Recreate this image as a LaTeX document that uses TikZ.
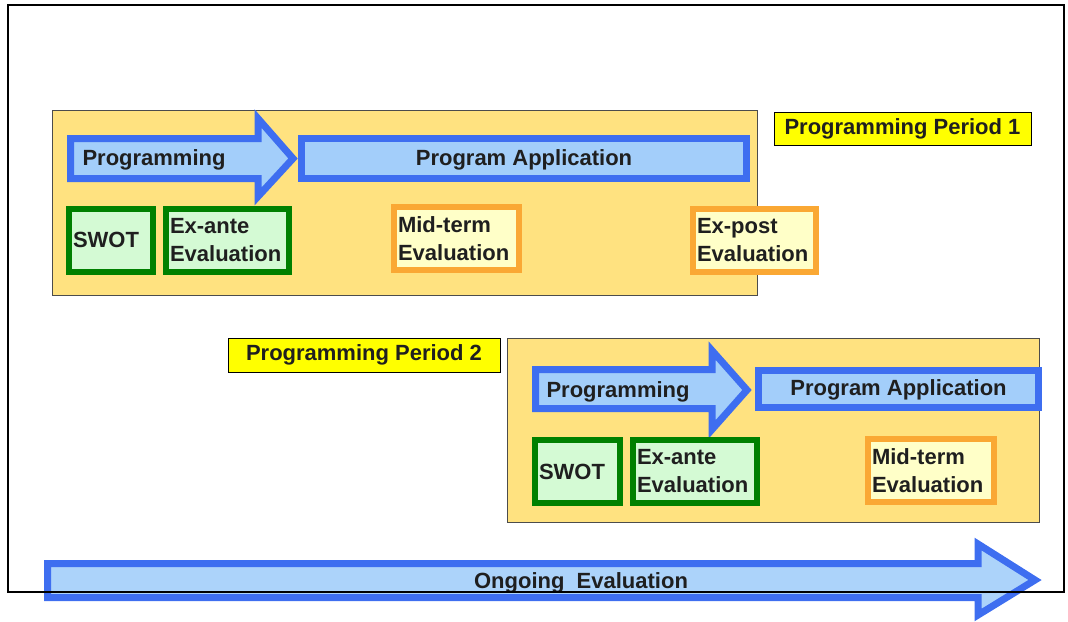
\documentclass[tikz,border=0pt]{standalone}
\usepackage{fontspec}
\setmainfont{Liberation Sans}
\usetikzlibrary{positioning}
\definecolor{arrblue}{RGB}{62,110,240}
\definecolor{arrfill}{RGB}{163,206,250}
\definecolor{evgreen}{RGB}{0,128,0}
\definecolor{evgreenfill}{RGB}{212,250,212}
\definecolor{evorange}{RGB}{250,168,52}
\definecolor{evorangefill}{RGB}{255,255,200}
\definecolor{periodfill}{RGB}{255,226,128}
\definecolor{tagyellow}{RGB}{255,255,0}
\tikzset{
  txt/.style={font=\bfseries\fontsize{22}{28}\selectfont, text=black!88},
  fatarrow/.style={draw=arrblue, line width=7pt, fill=arrfill, line join=miter},
  appbox/.style={fatarrow, txt, inner sep=0pt},
  period/.style={draw=black!70, fill=periodfill, line width=1.2pt},
  tag/.style={draw=black, fill=tagyellow, line width=1pt, txt, inner sep=0pt},
  evbox/.style={line width=6pt, txt, align=left, inner xsep=4pt, inner ysep=0pt, minimum height=63pt},
  exante/.style={evbox, draw=evgreen, fill=evgreenfill},
  review/.style={evbox, draw=evorange, fill=evorangefill}}

\begin{document}
\begin{tikzpicture}[x=1pt, y=-1pt]
  \useasboundingbox (0,0) rectangle (1068,621);
  % Programming Period 1
  \node[period, minimum width=705pt, minimum height=185pt, anchor=north west] (pp1) at (52,110) {};
  \node[tag, minimum width=257pt, minimum height=33pt] (tag1) at (902.5,128.5) {Programming Period 1};
  \draw[fatarrow] (70.5,138.5) -- (258,138.5) -- (258,118.5) -- (293,158.5) -- (258,196.5) -- (258,178.5) -- (70.5,178.5) -- cycle;
  \node[txt, anchor=west] (prog1) at (79,160) {Programming};
  \node[appbox, minimum width=445pt, minimum height=40pt, text depth=2pt] (app1) at (524,158.5) {Program Application};
  \node[exante, minimum width=84pt, text width=76pt] (swot1) at (111,240) {SWOT};
  \node[exante, minimum width=123pt, text width=115pt, right=7pt of swot1] (ante1) {Ex-ante\\Evaluation};
  \node[review, minimum width=125pt, text width=117pt] (mid1) at (456.5,238.5) {Mid-term\\Evaluation};
  \node[review, minimum width=123pt, text width=115pt] (post1) at (754.5,240.5) {Ex-post\\Evaluation};
  % Programming Period 2
  \node[period, minimum width=532pt, minimum height=184pt, anchor=north west] (pp2) at (507,338) {};
  \node[tag, minimum width=272pt, minimum height=34pt] (tag2) at (364,355) {Programming Period 2};
  \draw[fatarrow] (535.5,369.5) -- (712,369.5) -- (712,350.5) -- (747,390) -- (712,429.5) -- (712,408.5) -- (535.5,408.5) -- cycle;
  \node[txt, anchor=west] (prog2) at (543,391.5) {Programming};
  \node[appbox, minimum width=280pt, minimum height=37pt, text depth=2pt] (app2) at (898.5,389) {Program Application};
  \node[exante, minimum width=85pt, text width=77pt] (swot2) at (577.5,471.5) {SWOT};
  \node[exante, minimum width=124pt, text width=116pt, right=7pt of swot2] (ante2) {Ex-ante\\Evaluation};
  \node[review, minimum width=126pt, text width=118pt] (mid2) at (931,470.5) {Mid-term\\Evaluation};
  % ongoing evaluation
  \draw[fatarrow, fill opacity=0.9] (47.5,563.5) -- (978,563.5) -- (978,544) -- (1035,580) -- (978,615) -- (978,597.5) -- (47.5,597.5) -- cycle;
  \node[txt] (ongoing) at (581,583) {Ongoing\ \ Evaluation};
  % outer frame
  \draw[line width=1.5pt] (8,5) rectangle (1064,592);
\end{tikzpicture}
\end{document}
